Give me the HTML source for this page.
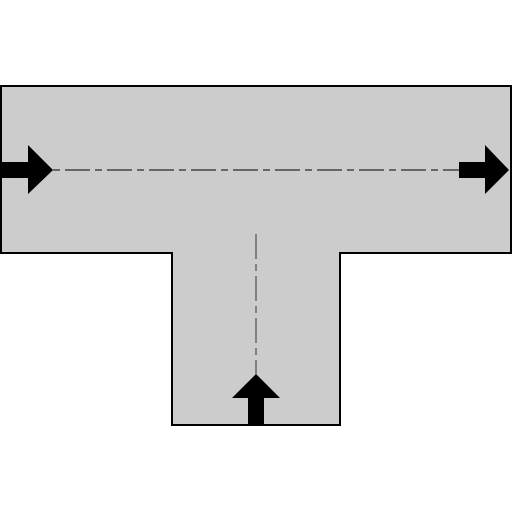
<!DOCTYPE html>
<html><head><style>html,body{margin:0;padding:0;background:#fff}svg{display:block}</style></head>
<body>
<svg width="512" height="512" viewBox="0 0 512 512">
  <path d="M1,86 H511 V253 H340 V425 H172 V253 H1 Z" fill="#cccccc" stroke="#000" stroke-width="2"/>
  <line x1="53" y1="170" x2="460" y2="170" stroke="#666" stroke-width="2" stroke-dasharray="25,5,7,5" stroke-dashoffset="30"/>
  <line x1="256" y1="234" x2="256" y2="374" stroke="#666" stroke-width="1.5" stroke-dasharray="25,5,7,5"/>
  <polygon points="0,162 28,162 28,145 53,170 28,194 28,178 0,178" fill="#000"/>
  <polygon points="459,162 485,162 485,145 509,170 485,194 485,178 459,178" fill="#000"/>
  <polygon points="248,425 248,398 232,398 256,374 280,398 264,398 264,425" fill="#000"/>
</svg>
</body></html>
